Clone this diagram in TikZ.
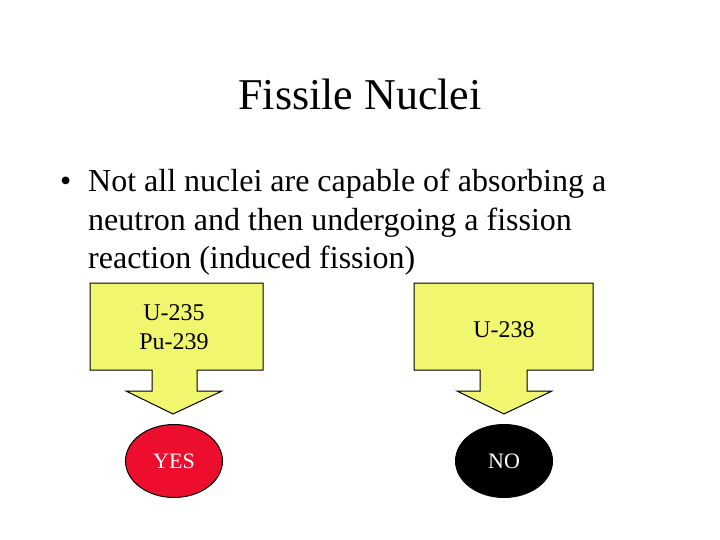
\documentclass[tikz,border=0pt]{standalone}
\usepackage{fontspec}
\setmainfont{Liberation Serif}
\usetikzlibrary{shapes.geometric}
\definecolor{calloutyellow}{RGB}{240,246,110}
\definecolor{yesred}{RGB}{236,14,44}
\tikzset{
  callout/.style={draw=black, line width=1pt, fill=calloutyellow, line join=miter},
  boxtext/.style={font=\fontsize{24}{29}\selectfont, align=center, inner sep=0pt},
  answer/.style={ellipse, draw=black, line width=1pt, minimum width=97pt, minimum height=73pt, inner sep=0pt, text=white, font=\fontsize{22}{26}\selectfont},
  bodytext/.style={font=\fontsize{32}{38}\selectfont, anchor=base west, inner sep=0pt}
}
\begin{document}
\begin{tikzpicture}[x=1pt,y=-1pt]
\useasboundingbox[fill=white] (0,0) rectangle (720,540);
% title
\node[font=\fontsize{44}{52}\selectfont, anchor=base, inner sep=0pt] (title) at (360,110) {Fissile Nuclei};
% bullet
\node[bodytext] (bullet) at (60,192) {•};
\node[bodytext] (l1) at (88,192) {Not all nuclei are capable of absorbing a};
\node[bodytext] (l2) at (88,230) {neutron and then undergoing a fission};
\node[bodytext] (l3) at (88,268) {reaction (induced fission)};
% left callout
\draw[callout] (90,283) -- (263,283) -- (263,370) -- (197,370) -- (197,391) -- (222,391)
  -- (173,414) -- (126,391) -- (152,391) -- (152,370) -- (90,370) -- cycle;
\node[boxtext] (fissile) at (174,327) {U-235\\Pu-239};
% right callout
\draw[callout] (414,283) -- (593,283) -- (593,370) -- (527,370) -- (527,391) -- (552,391)
  -- (504,414) -- (457,391) -- (480,391) -- (480,370) -- (414,370) -- cycle;
\node[boxtext] (nonfissile) at (504,330) {U-238};
% answers
\node[answer, fill=yesred] (yes) at (174,461) {YES};
\node[answer, fill=black] (no) at (504,461) {NO};
\end{tikzpicture}
\end{document}
